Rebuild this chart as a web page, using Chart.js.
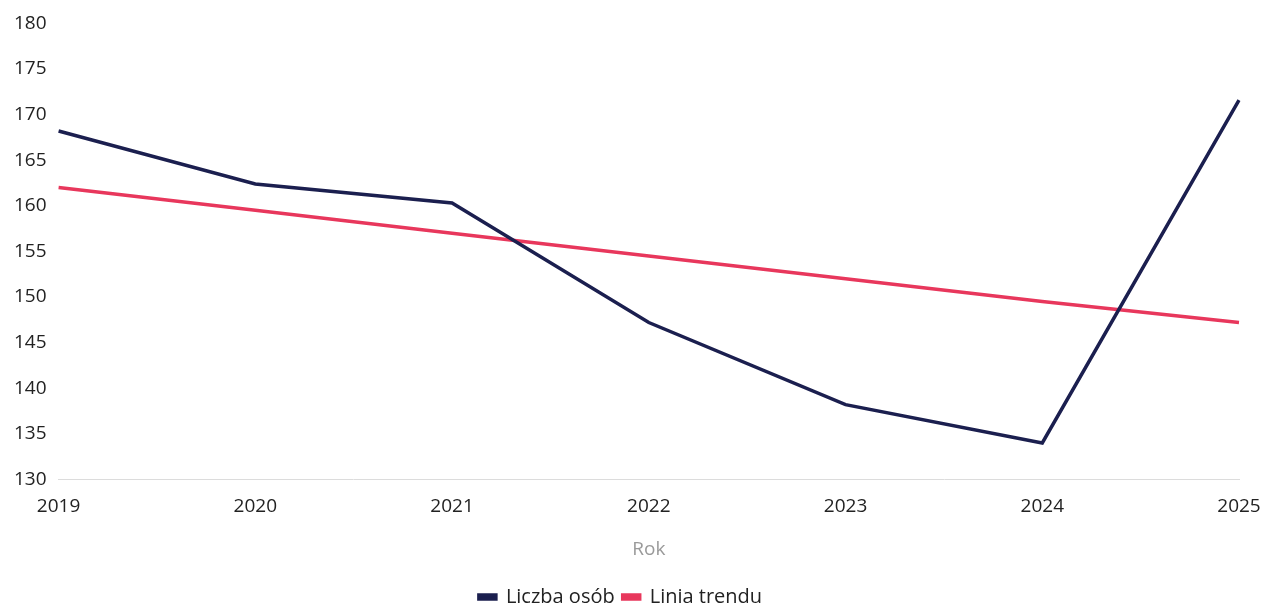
<!DOCTYPE html>
<html>
<head>
<meta charset="utf-8">
<script src="https://cdn.jsdelivr.net/npm/chart.js@4/dist/chart.umd.min.js"></script>
<style>
  html, body { margin: 0; padding: 0; background: #fff; }
  #wrap { width: 1279px; height: 609px; }
</style>
</head>
<body>
<div id="wrap"><canvas id="c" width="1279" height="609"></canvas></div>
<script>
const years = ['2019', '2020', '2021', '2022', '2023', '2024', '2025'];
const liczbaOsob = [168.2, 162.4, 160.3, 147.2, 138.2, 134.0, 171.6];
const liniaTrendu = [162.0, 159.5, 157.0, 154.5, 152.0, 149.5, 147.2];
const yMin = 130, yMax = 180, yStep = 5;

const fam = "'Open Sans', 'Noto Sans', sans-serif";
const tickFont = { family: fam, size: 19 };
const legendFont = { family: fam, size: 20 };

new Chart(document.getElementById('c'), {
  type: 'line',
  data: {
    labels: years,
    datasets: [
      { label: 'Liczba osób', data: liczbaOsob, borderColor: '#1b1f4f', backgroundColor: '#1b1f4f',
        borderWidth: 3.5, pointRadius: 0, tension: 0 },
      { label: 'Linia trendu', data: liniaTrendu, borderColor: '#e8375c', backgroundColor: '#e8375c',
        borderWidth: 3.5, pointRadius: 0, tension: 0 }
    ]
  },
  options: {
    responsive: false,
    animation: false,
    layout: { padding: { left: 2, right: 40, top: 8, bottom: -8 } },
    plugins: {
      legend: {
        position: 'bottom',
        labels: { font: legendFont, color: '#222', boxWidth: 17, boxHeight: 4, padding: 8 }
      },
      tooltip: { enabled: false }
    },
    scales: {
      x: {
        offset: false,
        grid: { display: false, drawTicks: false },
        border: { display: true, color: '#dcdcdc', width: 1, dash: [3, 3] },
        ticks: { font: tickFont, color: '#222', padding: 16, maxRotation: 0 },
        title: { display: true, text: 'Rok', font: tickFont, color: '#9a9a9a', padding: { top: 4, bottom: 18 } }
      },
      y: {
        min: yMin, max: yMax,
        grid: { display: false, drawTicks: false },
        border: { display: false },
        ticks: { stepSize: yStep, font: tickFont, color: '#222', padding: 12 }
      }
    }
  }
});
</script>
</body>
</html>
